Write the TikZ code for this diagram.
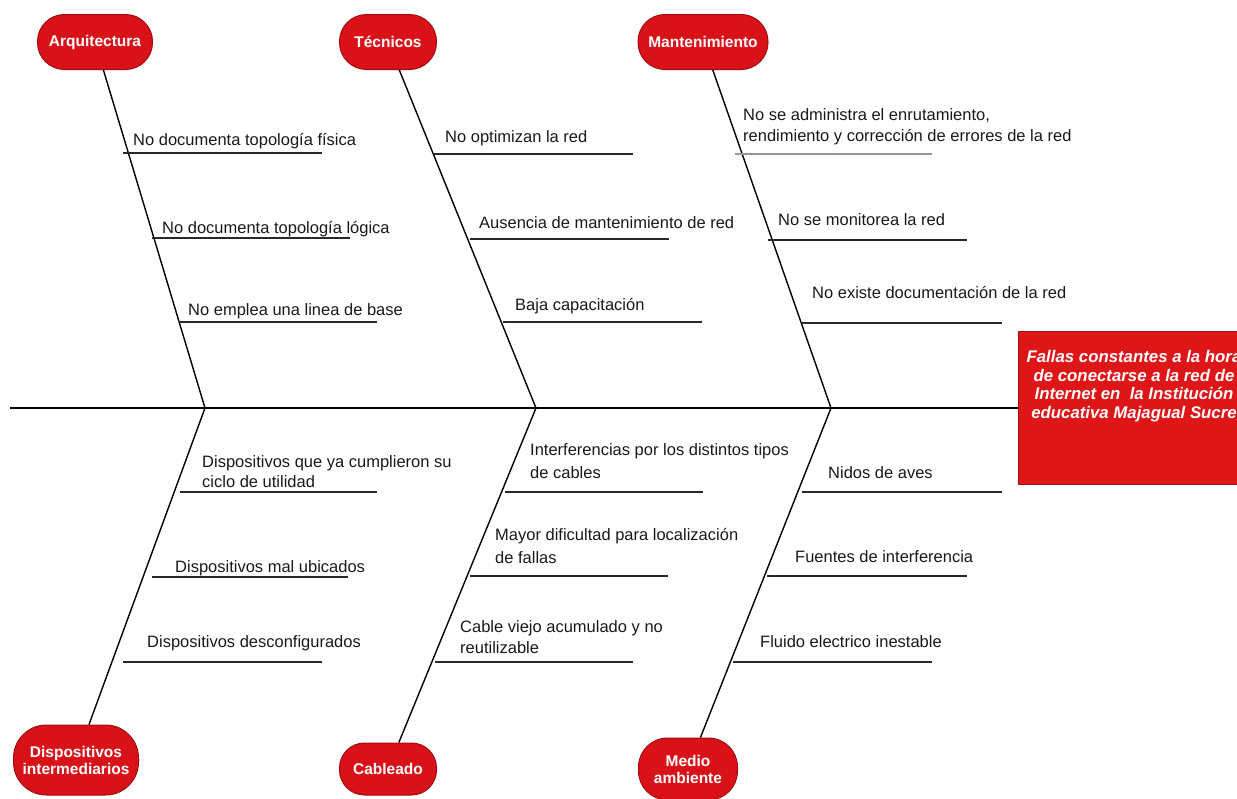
\documentclass[tikz,border=0pt]{standalone}
\usepackage{fontspec}
\setmainfont{Liberation Sans}
\definecolor{catred}{RGB}{216,18,24}
\definecolor{catborder}{RGB}{165,10,14}
\definecolor{headred}{RGB}{222,22,24}
\definecolor{headborder}{RGB}{150,20,20}
\definecolor{subgray}{RGB}{40,40,40}
\definecolor{lightgray}{RGB}{150,150,150}
\definecolor{txt}{RGB}{25,25,25}
\begin{document}
\begin{tikzpicture}[x=1pt,y=-1pt,
  cat/.style={draw=catborder, line width=1pt, fill=catred, text=white,
    font=\fontsize{15.5}{17}\selectfont\bfseries, align=center, inner sep=2pt},
  bone/.style={line width=1.4pt, draw=black},
  spine/.style={line width=1.6pt, draw=black},
  sub/.style={line width=2pt, draw=subgray},
  subl/.style={line width=2pt, draw=lightgray},
  lbl/.style={anchor=base west, inner sep=0pt, font=\fontsize{16.5}{20}\selectfont, text=txt}]
\useasboundingbox (0,0) rectangle (1237,798);
\clip (0,0) rectangle (1237,798);

% head
\node[draw=headborder, line width=1pt, fill=headred, minimum width=232pt, minimum height=153pt,
  anchor=west, inner sep=0pt] (head) at (1018,408) {};
\node[text=white, font=\fontsize{16.8}{18.6}\selectfont\bfseries\itshape, align=center, inner sep=0pt]
  (headtxt) at (1134,386) {Fallas constantes a la hora\\de conectarse a la red de\\Internet en~ la Institución\\educativa Majagual Sucre};

% categories
\node[cat, minimum width=115pt, minimum height=55pt, rounded corners=27pt] (arq) at (95,42) {Arquitectura};
\node[cat, minimum width=97pt, minimum height=55pt, rounded corners=27pt] (tec) at (388,42) {Técnicos};
\node[cat, minimum width=130pt, minimum height=55pt, rounded corners=27pt] (man) at (703,42) {Mantenimiento};
\node[cat, minimum width=125pt, minimum height=70pt, rounded corners=33pt] (dis) at (76,760) {Dispositivos\\intermediarios};
\node[cat, minimum width=97pt, minimum height=52pt, rounded corners=25pt] (cab) at (388,769) {Cableado};
\node[cat, minimum width=99pt, minimum height=62pt, rounded corners=29pt] (med) at (688,769) {Medio\\ambiente};

% spine
\coordinate (sp0) at (10,408);
\coordinate (j1) at (205,408);
\coordinate (j2) at (536,408);
\coordinate (j3) at (831,408);
\draw[spine] (sp0) -- (head.west);

% bones
\draw[bone] (arq) -- (j1);
\draw[bone] (tec) -- (j2);
\draw[bone] (man) -- (j3);
\draw[bone] (dis) -- (j1);
\draw[bone] (cab) -- (j2);
\draw[bone] (med) -- (j3);

% Arquitectura causes
\coordinate (a1l) at (123,153); \coordinate (a1r) at (322,153);
\coordinate (a2l) at (152,238); \coordinate (a2r) at (350,238);
\coordinate (a3l) at (180,322); \coordinate (a3r) at (377,322);
\draw[sub] (a1l) -- (a1r); \draw[sub] (a2l) -- (a2r); \draw[sub] (a3l) -- (a3r);
\node[lbl] (a1) at (133,145) {No documenta topología física};
\node[lbl] (a2) at (162,233) {No documenta topología lógica};
\node[lbl] (a3) at (188,315) {No emplea una linea de base};

% Tecnicos causes
\coordinate (t1l) at (433,154); \coordinate (t1r) at (633,154);
\coordinate (t2l) at (470,239); \coordinate (t2r) at (669,239);
\coordinate (t3l) at (503,322); \coordinate (t3r) at (702,322);
\draw[sub] (t1l) -- (t1r); \draw[sub] (t2l) -- (t2r); \draw[sub] (t3l) -- (t3r);
\node[lbl] (t1) at (445,142) {No optimizan la red};
\node[lbl] (t2) at (479,228) {Ausencia de mantenimiento de red};
\node[lbl] (t3) at (515,310) {Baja capacitación};

% Mantenimiento causes
\coordinate (m1l) at (735,154); \coordinate (m1r) at (932,154);
\coordinate (m2l) at (768,240); \coordinate (m2r) at (967,240);
\coordinate (m3l) at (802,323); \coordinate (m3r) at (1002,323);
\draw[subl] (m1l) -- (m1r); \draw[sub] (m2l) -- (m2r); \draw[sub] (m3l) -- (m3r);
\node[lbl] (m1a) at (743,120) {No se administra el enrutamiento,};
\node[lbl] (m1b) at (743,141) {rendimiento y corrección de errores de la red};
\node[lbl] (m2) at (778,225) {No se monitorea la red};
\node[lbl] (m3) at (812,298) {No existe documentación de la red};

% Dispositivos causes
\coordinate (d1l) at (180,492); \coordinate (d1r) at (377,492);
\coordinate (d2l) at (152,577); \coordinate (d2r) at (348,577);
\coordinate (d3l) at (123,662); \coordinate (d3r) at (322,662);
\draw[sub] (d1l) -- (d1r); \draw[sub] (d2l) -- (d2r); \draw[sub] (d3l) -- (d3r);
\node[lbl] (d1a) at (202,467) {Dispositivos que ya cumplieron su};
\node[lbl] (d1b) at (202,487) {ciclo de utilidad};
\node[lbl] (d2) at (175,572) {Dispositivos mal ubicados};
\node[lbl] (d3) at (147,647) {Dispositivos desconfigurados};

% Cableado causes
\coordinate (c1l) at (505,492); \coordinate (c1r) at (703,492);
\coordinate (c2l) at (470,576); \coordinate (c2r) at (668,576);
\coordinate (c3l) at (435,662); \coordinate (c3r) at (633,662);
\draw[sub] (c1l) -- (c1r); \draw[sub] (c2l) -- (c2r); \draw[sub] (c3l) -- (c3r);
\node[lbl] (c1a) at (530,455) {Interferencias por los distintos tipos};
\node[lbl] (c1b) at (530,478) {de cables};
\node[lbl] (c2a) at (495,540) {Mayor dificultad para localización};
\node[lbl] (c2b) at (495,563) {de fallas};
\node[lbl] (c3a) at (460,632) {Cable viejo acumulado y no};
\node[lbl] (c3b) at (460,653) {reutilizable};

% Medio ambiente causes
\coordinate (e1l) at (802,492); \coordinate (e1r) at (1002,492);
\coordinate (e2l) at (767,576); \coordinate (e2r) at (967,576);
\coordinate (e3l) at (733,662); \coordinate (e3r) at (932,662);
\draw[sub] (e1l) -- (e1r); \draw[sub] (e2l) -- (e2r); \draw[sub] (e3l) -- (e3r);
\node[lbl] (e1) at (828,478) {Nidos de aves};
\node[lbl] (e2) at (795,562) {Fuentes de interferencia};
\node[lbl] (e3) at (760,647) {Fluido electrico inestable};
\end{tikzpicture}
\end{document}
